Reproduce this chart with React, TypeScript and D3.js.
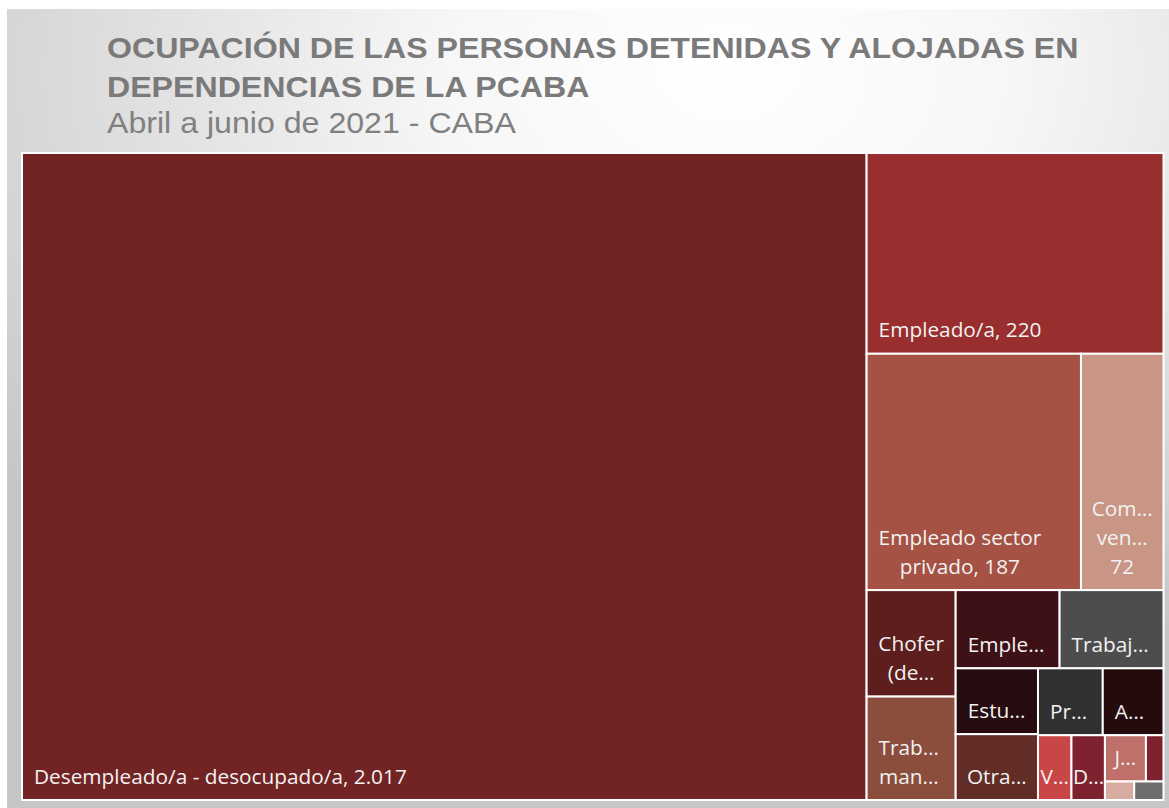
import React, { useEffect, useRef } from "react";
import * as d3 from "d3";

const titleLines = [
  "OCUPACIÓN DE LAS PERSONAS DETENIDAS Y ALOJADAS EN",
  "DEPENDENCIAS DE LA PCABA",
];
const subtitle = "Abril a junio de 2021 - CABA";

// values (only the 4 biggest are printed)
const values = [2017, 220, 187, 72, 35, 34, 30, 30, 20, 20, 16, 15, 8, 8, 7, 3, 2, 2];

// labels as excel shows them (wrapped / cut)
const labelLines = [
  ["Desempleado/a - desocupado/a, 2.017"],
  ["Empleado/a, 220"],
  ["Empleado sector", "privado, 187"],
  ["Com…", "ven…", "72"],
  ["Chofer", "(de…"],
  ["Trab…", "man…"],
  ["Emple…"],
  ["Trabaj…"],
  ["Estu…"],
  ["Otra…"],
  ["Pr…"],
  ["A…"],
  ["V…"],
  ["D…"],
  ["J…"],
  [],
  [],
  [],
];

const cellColors = [
  "#722323", "#982e2e", "#a55245", "#c99585", "#5e1e1e", "#8b4d3c",
  "#3e1117", "#4d4d4d", "#260c0e", "#622d26", "#303030", "#240b0c",
  "#c94646", "#7f2230", "#c0706a", "#7e2230", "#d8aba0", "#6e6e6e",
];

// how excel grouped the cells: n cells per strip, strip on the left (col) or on top (row)
const tileRows = [
  { n: 1, dir: "col" }, { n: 1, dir: "row" }, { n: 2, dir: "row" },
  { n: 2, dir: "col" }, { n: 2, dir: "row" }, { n: 2, dir: "col" },
  { n: 2, dir: "row" }, { n: 1, dir: "col" }, { n: 1, dir: "col" },
  { n: 2, dir: "row" }, { n: 1, dir: "col" }, { n: 1, dir: "col" },
];

function excelTile(parent: any, x0: number, y0: number, x1: number, y1: number) {
  const nodes = parent.children;
  let value = parent.value;
  let i = 0;
  tileRows.forEach((r) => {
    if (i >= nodes.length) return;
    const kids = nodes.slice(i, i + r.n);
    const sum = d3.sum(kids, (d: any) => d.value);
    const row: any = { value: sum, children: kids };
    if (r.dir === "row") {
      const yk = y0 + ((y1 - y0) * sum) / value;
      d3.treemapDice(row, x0, y0, x1, yk);
      y0 = yk;
    } else {
      const xk = x0 + ((x1 - x0) * sum) / value;
      d3.treemapSlice(row, x0, y0, xk, y1);
      x0 = xk;
    }
    value -= sum;
    i += r.n;
  });
}

export default function App() {
  const ref = useRef<SVGSVGElement>(null);

  useEffect(() => {
    const width = 1169;
    const height = 808;
    const svg = d3.select(ref.current);
    svg.selectAll("*").remove();

    const defs = svg.append("defs");
    const grad = defs
      .append("radialGradient")
      .attr("id", "bg")
      .attr("cx", 0.62)
      .attr("cy", 0.08)
      .attr("r", 0.8);
    grad.append("stop").attr("offset", 0).attr("stop-color", "#ffffff");
    grad.append("stop").attr("offset", 0.3).attr("stop-color", "#f7f7f7");
    grad.append("stop").attr("offset", 0.75).attr("stop-color", "#d8d8d8");
    grad.append("stop").attr("offset", 1).attr("stop-color", "#c6c6c6");

    svg
      .append("rect")
      .attr("x", 7)
      .attr("y", 9)
      .attr("width", width - 7)
      .attr("height", height - 9)
      .attr("fill", "url(#bg)");

    // title, text in the original is a bit wider than arial so stretch it
    const head = svg.append("g").attr("transform", "translate(107,0) scale(1.108,1)");
    const title = head
      .append("text")
      .attr("font-family", "'Liberation Sans', Arial, sans-serif")
      .attr("font-weight", "bold")
      .attr("font-size", 29)
      .attr("fill", "#7a7a7a");
    titleLines.forEach((t, i) => {
      title.append("tspan").attr("x", 0).attr("y", 58 + i * 39).text(t);
    });
    head
      .append("text")
      .attr("x", 0)
      .attr("y", 133)
      .attr("font-family", "'Liberation Sans', Arial, sans-serif")
      .attr("font-size", 29)
      .attr("fill", "#808080")
      .text(subtitle);

    // treemap
    const left = 22;
    const top = 153;
    const tmW = 1141.5;
    const tmH = 647;

    const root = d3
      .hierarchy({ children: values.map((v, i) => ({ i, v })) } as any)
      .sum((d: any) => d.v || 0);
    d3.treemap().tile(excelTile as any).size([tmW, tmH]).round(false)(root);

    const g = svg.append("g").attr("transform", `translate(${left},${top})`);
    const leaves = root.leaves() as any[];

    const cell = g.selectAll("g.cell").data(leaves).join("g").attr("class", "cell");

    cell
      .append("rect")
      .attr("x", (d) => d.x0)
      .attr("y", (d) => d.y0)
      .attr("width", (d) => d.x1 - d.x0)
      .attr("height", (d) => d.y1 - d.y0)
      .attr("fill", (d) => cellColors[d.data.i])
      .attr("stroke", "#ffffff")
      .attr("stroke-width", 2);

    const fontSize = 20.8;
    const lineH = 29;
    cell.each(function (d) {
      const lines = labelLines[d.data.i];
      if (!lines.length) return;
      const txt = d3
        .select(this)
        .append("text")
        .attr("font-family", "'Open Sans', sans-serif")
        .attr("font-size", fontSize)
        .attr("fill", "#f2f2f2")
        .attr("text-anchor", "middle");
      const spans = lines.map((l: string) => txt.append("tspan").text(l));
      const bw = d3.max(spans, (s: any) => (s.node() as SVGTSpanElement).getComputedTextLength()) || 0;
      const w = d.x1 - d.x0;
      const pad = Math.min(12, Math.max(1.5, (w - bw) / 2));
      const cx = d.x0 + pad + bw / 2;
      const lastBase = d.y1 - 16.5;
      spans.forEach((s: any, k: number) => {
        s.attr("x", cx).attr("y", lastBase - (lines.length - 1 - k) * lineH);
      });
    });
  }, []);

  return (
    <svg
      ref={ref}
      width={1169}
      height={808}
      style={{ position: "absolute", left: 0, top: 0 }}
    />
  );
}
